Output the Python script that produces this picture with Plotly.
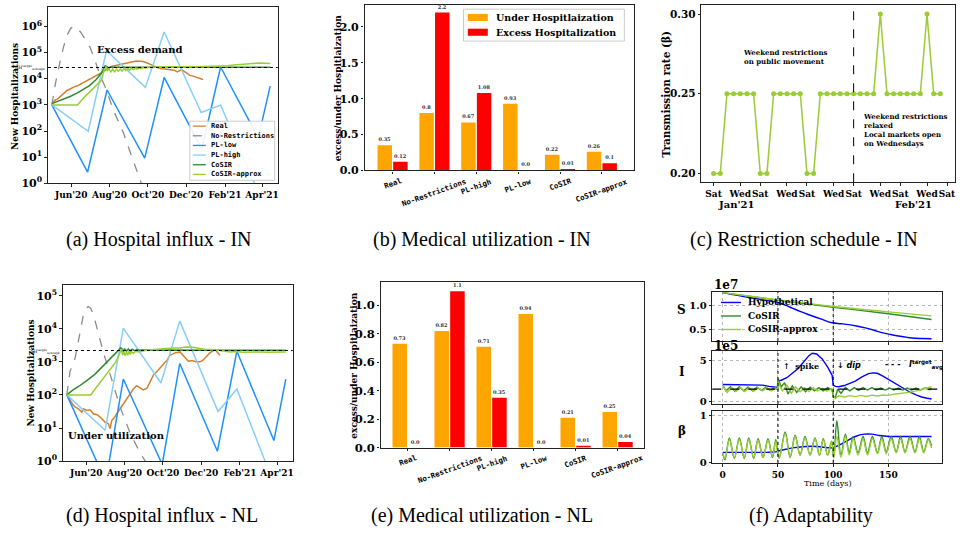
import numpy as np
import pandas as pd
import plotly.graph_objects as go

W, H = 962, 541
SERIF = "DejaVu Serif"
MONO = "DejaVu Sans Mono"
TIMES = "Liberation Serif"

# ---------------- data ----------------
BASE_DATE = "2020-05-01"
MONTH_TICKS = ["2020-06-01", "2020-08-01", "2020-10-01", "2020-12-01", "2021-02-01", "2021-04-01"]
MONTH_LABELS = ["Jun'20", "Aug'20", "Oct'20", "Dec'20", "Feb'21", "Apr'21"]
SERIES_NAMES = ["Real", "No-Restrictions", "PL-low", "PL-high", "CoSIR", "CoSIR-approx"]

# (a) India: (days since BASE_DATE, log10 new hospitalizations)
IN_REAL = [(0, 3.05), (3, 3.12), (6, 3.2), (9, 3.22), (12, 3.3), (15, 3.35), (18, 3.42), (21, 3.48),
           (24, 3.55), (27, 3.58), (30, 3.62), (33, 3.66), (36, 3.7), (40, 3.72), (44, 3.78), (48, 3.83),
           (52, 3.88), (56, 3.93), (60, 3.98), (64, 4.03), (68, 4.08), (72, 4.12), (76, 4.18), (80, 4.24),
           (84, 4.3), (88, 4.38), (92, 4.44), (96, 4.48), (100, 4.5), (105, 4.52), (110, 4.55), (115, 4.57),
           (120, 4.6), (125, 4.63), (130, 4.66), (135, 4.68), (140, 4.67), (145, 4.66), (150, 4.62),
           (155, 4.58), (160, 4.52), (165, 4.45), (170, 4.4), (175, 4.38), (180, 4.37), (185, 4.36),
           (190, 4.35), (195, 4.33), (200, 4.26), (203, 4.3), (207, 4.35), (211, 4.28), (215, 4.2),
           (220, 4.13), (225, 4.1), (230, 4.06), (235, 4.02), (241, 3.97)]
IN_NORES = [(0, 3.0), (6, 3.85), (13, 4.65), (19, 5.25), (25, 5.7), (30, 5.93), (35, 6.0), (40, 5.95),
            (46, 5.78), (53, 5.5), (61, 5.2), (68, 4.75), (76, 4.2), (87, 3.57), (98, 2.8), (114, 1.93),
            (127, 1.05), (140, 0.17), (147, -0.3)]
IN_PL_LOW = [(0, 3.0), (57, 0.43), (88, 3.57), (148, 0.96), (179, 4.05), (239, 1.31), (269, 4.45),
             (329, 1.74), (348, 3.72)]
IN_PL_HIGH = [(0, 3.0), (58, 1.99), (87, 5.08), (149, 3.67), (179, 5.79), (238, 2.71), (269, 2.99),
              (323, 0.0), (348, -1.0)]
IN_COSIR = [(0, 3.05), (10, 3.14), (20, 3.24), (30, 3.33), (40, 3.45), (50, 3.58), (60, 3.74), (70, 3.95),
            (76, 4.12), (80, 4.25), (83, 4.4), (85, 4.5), (88, 4.46), (91, 4.41), (94, 4.46), (97, 4.42),
            (100, 4.45), (103, 4.43), (106, 4.45), (110, 4.43), (114, 4.44), (140, 4.44), (200, 4.44),
            (260, 4.44), (348, 4.44)]
IN_COSIR_APPROX = [(0, 3.0), (41, 3.0), (50, 3.25), (60, 3.5), (70, 3.72), (79, 3.94), (84, 4.4), (86, 4.45),
                   (88, 4.3), (91, 4.38), (94, 4.26), (97, 4.36), (100, 4.27), (103, 4.37), (106, 4.29),
                   (109, 4.37), (112, 4.3), (115, 4.38), (118, 4.32), (121, 4.39), (124, 4.33), (127, 4.4),
                   (130, 4.35), (133, 4.41), (136, 4.37), (139, 4.42), (142, 4.39), (146, 4.43), (150, 4.41),
                   (155, 4.44), (160, 4.43), (170, 4.45), (180, 4.44), (190, 4.46), (200, 4.46), (210, 4.45),
                   (220, 4.47), (230, 4.46), (240, 4.47), (250, 4.46), (260, 4.47), (270, 4.48), (280, 4.5),
                   (290, 4.53), (300, 4.55), (310, 4.57), (320, 4.58), (330, 4.6), (340, 4.59), (348, 4.58)]
IN_TARGET = 2.7e4

# (d) Netherlands
NL_REAL = [(0, 2.0), (5.3, 1.83), (10, 1.7), (13.2, 1.64), (18.5, 1.58), (23.9, 1.48), (26.4, 1.58),
           (31.8, 1.53), (37.1, 1.55), (42.3, 1.43), (48.2, 1.4), (53, 1.33), (57.8, 1.25), (61, 1.18),
           (66.2, 1.13), (69, 0.98), (71.6, 1.23), (75.3, 1.3), (79.6, 1.43), (84.9, 1.58), (92.8, 1.78),
           (100.8, 2.03), (106, 2.18), (111.4, 2.28), (116.7, 2.2), (121.9, 2.15), (127.8, 2.2),
           (132.6, 2.38), (137.9, 2.6), (143.3, 2.7), (148.5, 2.8), (153.8, 2.93), (159.7, 3.05),
           (164.5, 3.2), (172.4, 3.27), (180.4, 3.3), (185.2, 3.2), (188.3, 3.12), (193.6, 3.02),
           (199.5, 3.04), (205.8, 3.0), (212.2, 3.0), (217, 3.05), (222.9, 3.17), (228.1, 3.27),
           (232.9, 3.33), (236.1, 3.37), (241.3, 3.26), (244, 3.2)]
NL_NORES = [(0, 2.0), (5, 2.7), (13.3, 3.12), (21.2, 3.97), (26.4, 4.42), (30, 4.6), (34, 4.67), (38, 4.62),
            (42, 4.45), (47, 4.1), (53, 3.67), (58, 3.3), (69, 2.63), (85, 1.63), (101, 0.84), (117, 0.24),
            (125, 0.0), (130, -0.3)]
NL_PL_LOW = [(0, 2.0), (62, -0.62), (90, 2.48), (152, -0.1), (180, 2.95), (240, 0.3), (271, 3.32),
             (330, 0.62), (349, 2.48)]
NL_PL_HIGH = [(0, 2.0), (61, 0.93), (90, 4.02), (150, 2.36), (180, 4.23), (241, 1.5), (271, 2.18),
              (316, 0.0), (349, -1.6)]
NL_COSIR = [(0, 2.0), (10, 2.15), (20, 2.27), (27, 2.36), (35, 2.48), (45, 2.63), (53, 2.78), (62, 2.95),
            (72, 3.15), (80, 3.3), (86, 3.42), (88, 3.38), (90, 3.3), (92, 3.4), (95, 3.32), (98, 3.39),
            (101, 3.33), (104, 3.38), (108, 3.34), (112, 3.37), (116, 3.35), (120, 3.36), (160, 3.35),
            (240, 3.35), (349, 3.35)]
NL_COSIR_APPROX = [(0, 2.0), (38, 2.0), (50, 2.3), (60, 2.55), (70, 2.8), (78, 3.0), (83, 3.2), (87, 3.38),
                   (89, 3.2), (91, 3.3), (93, 3.18), (95, 3.3), (97, 3.2), (99, 3.32), (101, 3.22), (103, 3.3),
                   (106, 3.26), (110, 3.32), (115, 3.3), (120, 3.33), (130, 3.36), (140, 3.38), (150, 3.4),
                   (160, 3.4), (170, 3.42), (180, 3.42), (190, 3.45), (200, 3.44), (210, 3.4), (220, 3.38),
                   (230, 3.37), (240, 3.36), (250, 3.33), (260, 3.3), (270, 3.31), (280, 3.29), (290, 3.3),
                   (300, 3.29), (310, 3.3), (320, 3.29), (330, 3.3), (340, 3.29), (349, 3.3)]
NL_TARGET = 2.2e3

# (b), (e) bar charts
BAR_CATS = ["Real", "No-Restrictions", "PL-high", "PL-low", "CoSIR", "CoSIR-approx"]
IN_UNDER = [0.35, 0.8, 0.67, 0.93, 0.22, 0.26]
IN_EXCESS = [0.12, 2.2, 1.08, 0.0, 0.01, 0.1]
NL_UNDER = [0.73, 0.82, 0.71, 0.94, 0.21, 0.25]
NL_EXCESS = [0.0, 1.1, 0.35, 0.0, 0.01, 0.04]
BAR_LEGEND = ["Under Hospitlaization", "Excess Hospitalization"]

# (c) restriction schedule
C_DAYS = list(range(35))
C_BETA = [0.20, 0.20, 0.25, 0.25, 0.25, 0.25, 0.25, 0.20, 0.20, 0.25, 0.25, 0.25, 0.25, 0.25,
          0.20, 0.20, 0.25, 0.25, 0.25, 0.25, 0.25, 0.25, 0.25, 0.25, 0.25, 0.30, 0.25, 0.25,
          0.25, 0.25, 0.25, 0.25, 0.30, 0.25, 0.25]
C_TICK_DAYS = [0, 4, 7, 11, 14, 18, 21, 25, 28, 32, 35]
C_TICK_LABELS = ["Sat", "Wed", "Sat", "Wed", "Sat", "Wed", "Sat", "Wed", "Sat", "Wed", "Sat"]
C_MONTHS = [(3.35, "Jan'21"), (30, "Feb'21")]
C_SPLIT_DAY = 21

# (f) adaptability: (day, value)
F_S_HYPO = [(0, 1.28), (25, 1.17), (50, 1.07), (56, 1.02), (63, 0.95), (70, 0.88), (78, 0.81), (90, 0.71),
            (99, 0.64), (107, 0.62), (114, 0.60), (121, 0.57), (129, 0.53), (137, 0.48), (144, 0.43),
            (152, 0.39), (159, 0.36), (167, 0.33), (174, 0.31), (181, 0.305), (189, 0.30)]
F_S_COSIR = [(0, 1.28), (50, 1.12), (100, 0.97), (150, 0.83), (189, 0.71)]
F_S_APPROX = [(0, 1.28), (50, 1.125), (100, 0.985), (150, 0.87), (189, 0.785)]

F_I_HYPO = [(0, 2.08), (10, 2.08), (20, 2.07), (30, 2.05), (36, 2.0), (42, 1.85), (47, 1.75), (49.5, 1.72),
            (50, 2.55), (53, 2.6), (58, 2.9), (63, 3.4), (68, 4.0), (73, 4.8), (78, 5.6), (81, 5.9), (85, 5.8),
            (90, 5.2), (95, 4.2), (99, 3.2), (99.5, 2.6), (100, 2.0), (102, 1.85), (105, 1.8), (110, 1.95),
            (115, 2.2), (120, 2.5), (126, 3.0), (132, 3.4), (136, 3.5), (140, 3.45), (145, 3.1), (150, 2.7),
            (155, 2.2), (160, 1.8), (165, 1.45), (170, 1.1), (175, 0.8), (180, 0.55), (185, 0.4), (189, 0.3)]
F_I_COSIR = [(0, 2.0), (3, 1.3), (7, 1.8), (11, 1.25), (15, 1.8), (19, 1.3), (23, 1.75), (27, 1.3), (31, 1.75),
             (35, 1.35), (39, 1.75), (43, 1.35), (47, 1.7), (49.9, 1.4), (50, 2.8), (53, 1.8), (56, 2.3),
             (59, 0.9), (63, 1.9), (67, 1.1), (71, 1.8), (75, 1.2), (79, 1.75), (83, 1.3), (87, 1.7), (91, 1.3),
             (95, 1.7), (99, 1.4), (100, 0.6), (102, 0.5), (104, 1.5), (107, 1.0), (111, 1.7), (115, 1.3),
             (119, 1.7), (123, 1.35), (127, 1.7), (131, 1.4), (135, 1.7), (139, 1.4), (143, 1.65), (147, 1.4),
             (151, 1.65), (155, 1.4), (159, 1.65), (163, 1.4), (167, 1.65), (171, 1.4), (175, 1.65), (179, 1.4),
             (183, 1.65), (187, 1.45), (189, 1.6)]
F_I_APPROX = [(0, 2.0), (4, 1.1), (8, 1.7), (12, 1.2), (16, 1.7), (20, 1.2), (24, 1.7), (28, 1.25), (32, 1.7),
              (36, 1.3), (40, 1.7), (44, 1.3), (48, 1.65), (49.9, 1.5), (50, 2.4), (54, 1.3), (58, 2.0), (62, 1.0),
              (66, 1.8), (70, 1.2), (74, 1.7), (78, 1.2), (82, 1.65), (86, 1.3), (90, 1.6), (94, 1.3), (98, 1.55),
              (99.9, 1.5), (100, 0.6), (102, 0.35), (105, 0.7), (110, 0.55), (115, 0.72), (120, 0.6), (125, 0.75),
              (130, 0.62), (135, 0.78), (140, 0.68), (145, 0.8), (150, 0.75), (155, 0.88), (160, 0.95),
              (165, 1.02), (170, 1.15), (175, 1.3), (180, 1.45), (185, 1.6), (189, 1.8)]
F_I_TARGET = 1.52

F_B_HYPO = [(0, 0.21), (10, 0.21), (20, 0.21), (30, 0.21), (40, 0.21), (48, 0.22), (52, 0.25), (58, 0.28),
            (65, 0.31), (72, 0.33), (80, 0.34), (88, 0.33), (95, 0.31), (100, 0.31), (105, 0.36), (112, 0.45),
            (120, 0.55), (128, 0.6), (135, 0.6), (142, 0.57), (150, 0.55), (160, 0.55), (170, 0.55),
            (180, 0.55), (189, 0.55)]
F_B_COSIR = [(0, 0.2), (2, 0.05), (6, 0.52), (10.5, 0.08), (15, 0.52), (19.5, 0.08), (23.5, 0.52), (28, 0.08),
             (32, 0.5), (36.5, 0.1), (41, 0.5), (45, 0.1), (48, 0.48), (51, 0.08), (56.5, 0.65), (61, 0.1),
             (65.5, 0.58), (70, 0.15), (74.5, 0.55), (79, 0.15), (83.5, 0.52), (87.5, 0.15), (91, 0.5),
             (95, 0.15), (98.5, 0.45), (100.5, 0.1), (103.3, 0.89), (107, 0.15), (111, 0.6), (114.5, 0.2),
             (118, 0.55), (122.5, 0.2), (127, 0.55), (131, 0.2), (135.5, 0.55), (140, 0.2), (144, 0.55),
             (148, 0.22), (152.5, 0.55), (157, 0.22), (161, 0.55), (165, 0.22), (169.5, 0.55), (174, 0.22),
             (178, 0.55), (182, 0.22), (186, 0.5), (189, 0.35)]
F_B_APPROX = [(0, 0.2), (2, 0.08), (6, 0.48), (10.5, 0.1), (15, 0.48), (19.5, 0.1), (23.5, 0.48), (28, 0.1),
              (32, 0.47), (36.5, 0.1), (41, 0.47), (45, 0.12), (48, 0.45), (51, 0.1), (56.5, 0.6), (61, 0.12),
              (65.5, 0.55), (70, 0.15), (74.5, 0.52), (79, 0.15), (83.5, 0.5), (87.5, 0.15), (91, 0.48),
              (95, 0.15), (98.5, 0.45), (100.5, 0.12), (103.3, 0.55), (107, 0.1), (111, 0.55), (114.5, 0.15),
              (118, 0.5), (122.5, 0.15), (127, 0.5), (131, 0.15), (135.5, 0.5), (140, 0.18), (144, 0.5),
              (148, 0.18), (152.5, 0.5), (157, 0.2), (161, 0.5), (165, 0.2), (169.5, 0.5), (174, 0.2),
              (178, 0.5), (182, 0.2), (186, 0.48), (189, 0.3)]
F_EVENT_DAYS = [50, 100]
F_XTICKS = [0, 50, 100, 150]

# ---------------- styles ----------------
C_REAL = "#D2802E"
C_NORES = "#8c8c8c"
C_PLLOW = "#1E90FF"
C_PLHIGH = "#87CEFA"
C_COSIR = "#2E8B2E"
C_APPROX = "#9ACD32"
C_HYPO = "#0000FF"
C_UNDER = "#FFA500"
C_EXCESS = "#FF0000"
SERIES_COLORS = [C_REAL, C_NORES, C_PLLOW, C_PLHIGH, C_COSIR, C_APPROX]
SERIES_DASH = ["solid", "dash", "solid", "solid", "solid", "solid"]


def px(x):
    return x / W


def py(y):
    return 1 - y / H


def dates(days):
    return pd.Timestamp(BASE_DATE) + pd.to_timedelta(np.asarray(days, dtype=float), unit="D")


def split(pairs):
    d, v = zip(*pairs)
    return list(d), list(v)


fig = go.Figure()
shapes = []
annotations = []


def text_px(x, y, text, size, family=SERIF, xanchor="center", yanchor="middle", weight="bold",
            angle=0, color="black", style="normal"):
    annotations.append(dict(xref="paper", yref="paper", x=px(x), y=py(y), text=text, showarrow=False,
                            xanchor=xanchor, yanchor=yanchor, textangle=angle, borderpad=0,
                            font=dict(family=family, size=size, color=color, weight=weight, style=style)))


def line_px(x0, x1, y, color, dash="solid", width=1.5):
    shapes.append(dict(type="line", xref="paper", yref="paper", x0=px(x0), x1=px(x1), y0=py(y), y1=py(y),
                       line=dict(color=color, width=width, dash=dash)))


def rect_px(x0, y0, x1, y1, fill, lcolor, lw=1):
    shapes.append(dict(type="rect", xref="paper", yref="paper", x0=px(x0), x1=px(x1), y0=py(y1), y1=py(y0),
                       fillcolor=fill, line=dict(color=lcolor, width=lw)))


# ---------------- traces: (a) and (d) ----------------
for (xa, ya), series in [(("x", "y"), [IN_REAL, IN_NORES, IN_PL_LOW, IN_PL_HIGH, IN_COSIR, IN_COSIR_APPROX]),
                         (("x4", "y4"), [NL_REAL, NL_NORES, NL_PL_LOW, NL_PL_HIGH, NL_COSIR, NL_COSIR_APPROX])]:
    for name, pairs, col, dash in zip(SERIES_NAMES, series, SERIES_COLORS, SERIES_DASH):
        d, v = split(pairs)
        fig.add_trace(go.Scatter(x=dates(d), y=np.power(10.0, v), mode="lines", name=name,
                                 line=dict(color=col, width=1.3 if dash == "dash" else 1.5, dash=dash),
                                 xaxis=xa, yaxis=ya, showlegend=False))

# ---------------- traces: (b) and (e) ----------------
for (xa, ya), under, excess in [(("x2", "y2"), IN_UNDER, IN_EXCESS), (("x5", "y5"), NL_UNDER, NL_EXCESS)]:
    for vals, col, nm in [(under, C_UNDER, BAR_LEGEND[0]), (excess, C_EXCESS, BAR_LEGEND[1])]:
        fig.add_trace(go.Bar(x=BAR_CATS, y=vals, name=nm, marker=dict(color=col, line=dict(width=0)),
                             text=[str(v) for v in vals], textposition="outside", constraintext="none",
                             textfont=dict(family=SERIF, size=5, color="#333333", weight="bold"),
                             cliponaxis=False, xaxis=xa, yaxis=ya, showlegend=False))

# ---------------- traces: (c) ----------------
fig.add_trace(go.Scatter(x=C_DAYS, y=C_BETA, mode="lines+markers", line=dict(color=C_APPROX, width=1.5),
                         marker=dict(color=C_APPROX, size=5), xaxis="x3", yaxis="y3", showlegend=False))

# ---------------- traces: (f) ----------------
F_PANELS = [("x6", "y6", [(F_S_HYPO, C_HYPO), (F_S_COSIR, C_COSIR), (F_S_APPROX, C_APPROX)], "spline"),
            ("x7", "y7", [(F_I_HYPO, C_HYPO), (F_I_COSIR, C_COSIR), (F_I_APPROX, C_APPROX)], "linear"),
            ("x8", "y8", [(F_B_HYPO, C_HYPO), (F_B_COSIR, C_COSIR), (F_B_APPROX, C_APPROX)], "spline")]
for xa, ya, lst, shp in F_PANELS:
    for pairs, col in lst:
        d, v = split(pairs)
        fig.add_trace(go.Scatter(x=d, y=v, mode="lines", line=dict(color=col, width=1.4, shape=shp),
                                 xaxis=xa, yaxis=ya, showlegend=False))

# ---------------- axes ----------------
TICKFONT = dict(family=SERIF, size=10, color="black", weight="bold")
BASE_AX = dict(showline=True, linecolor="#222222", linewidth=1.3, mirror=True, ticks="outside", ticklen=2.5,
               tickwidth=1, tickcolor="#222222", showgrid=False, zeroline=False, tickangle=0, fixedrange=True)


def ax(**kw):
    d = dict(BASE_AX)
    d["tickfont"] = dict(TICKFONT)
    for k, v in kw.items():
        if k == "font_size":
            d["tickfont"]["size"] = v
        else:
            d[k] = v
    return d


date_rng = [str(dates([-6.2])[0]), str(dates([360.0])[0])]
POW = ["10<sup>%d</sup>" % i for i in range(7)]
layout_axes = dict(
    xaxis=ax(domain=[px(48), px(278)], anchor="y", type="date", range=date_rng, tickvals=MONTH_TICKS,
             ticktext=MONTH_LABELS, font_size=9),
    yaxis=ax(domain=[py(185), py(6)], anchor="x", type="log", range=[0, 6.75],
             tickvals=[10.0 ** i for i in range(7)], ticktext=POW, font_size=11),
    xaxis2=ax(domain=[px(365), px(635)], anchor="y2", type="category", range=[-0.668, 5.776],
              showticklabels=False),
    yaxis2=ax(domain=[py(172), py(4)], anchor="x2", range=[0, 2.307], tickvals=[0, 0.5, 1.0, 1.5, 2.0],
              tickformat=".1f", font_size=11),
    xaxis3=ax(domain=[px(702), px(956)], anchor="y3", range=[-1.85, 36.2], tickvals=C_TICK_DAYS,
              ticktext=C_TICK_LABELS, font_size=9),
    yaxis3=ax(domain=[py(184), py(4)], anchor="x3", range=[0.19443, 0.30575], tickvals=[0.20, 0.25, 0.30],
              tickformat=".2f", font_size=10.5),
    xaxis4=ax(domain=[px(63), px(293)], anchor="y4", type="date", range=date_rng, tickvals=MONTH_TICKS,
              ticktext=MONTH_LABELS, font_size=9),
    yaxis4=ax(domain=[py(467), py(288)], anchor="x4", type="log", range=[0, 5.33],
              tickvals=[10.0 ** i for i in range(6)], ticktext=POW[:6], font_size=11),
    xaxis5=ax(domain=[px(381), px(645)], anchor="y5", type="category", range=[-0.642, 5.636],
              showticklabels=False),
    yaxis5=ax(domain=[py(453.3), py(285)], anchor="x5", range=[0, 1.166],
              tickvals=[0, 0.2, 0.4, 0.6, 0.8, 1.0], tickformat=".1f", font_size=11.5),
)
F_GRID = dict(showgrid=True, gridcolor="#b8b8b8", griddash="dot", gridwidth=0.8)
for i, (top, bot, rng, tv, tt) in enumerate([(295, 345, [0.255, 1.30], [0.5, 1.0], ["0.5", "1.0"]),
                                             (355, 409, [-0.3, 6.2], [0, 5], ["0", "5"]),
                                             (416, 469, [-0.02, 1.1], [0, 1], ["0", "1"])]):
    n = 6 + i
    layout_axes["xaxis%d" % n] = ax(domain=[px(713), px(943)], anchor="y%d" % n, range=[-9.5, 198.5],
                                    tickvals=F_XTICKS, showticklabels=(n == 8), font_size=9, **F_GRID)
    layout_axes["yaxis%d" % n] = ax(domain=[py(bot), py(top)], anchor="x%d" % n, range=rng, tickvals=tv,
                                    ticktext=tt, font_size=10, **F_GRID)

# ---------------- reference lines ----------------
shapes.append(dict(type="line", xref="x domain", yref="y", x0=0, x1=1, y0=IN_TARGET, y1=IN_TARGET,
                   line=dict(color="black", width=1, dash="dot")))
shapes.append(dict(type="line", xref="x4 domain", yref="y4", x0=0, x1=1, y0=NL_TARGET, y1=NL_TARGET,
                   line=dict(color="black", width=1, dash="dot")))
shapes.append(dict(type="line", xref="x3", yref="y3 domain", x0=C_SPLIT_DAY, x1=C_SPLIT_DAY, y0=0, y1=1,
                   line=dict(color="black", width=1, dash="dash")))
for n in (6, 7, 8):
    for dday in F_EVENT_DAYS:
        shapes.append(dict(type="line", xref="x%d" % n, yref="y%d domain" % n, x0=dday, x1=dday, y0=0, y1=1,
                           line=dict(color="black", width=1, dash="dot")))
shapes.append(dict(type="line", xref="x7 domain", yref="y7", x0=0, x1=1, y0=F_I_TARGET, y1=F_I_TARGET,
                   line=dict(color="black", width=1.2, dash="dash")))

# ---------------- legends (drawn) ----------------
# (a)
rect_px(190, 122, 275, 182, "rgba(255,255,255,0.9)", "#cccccc", 1)
for i, (nm, col, dash) in enumerate(zip(SERIES_NAMES, SERIES_COLORS, SERIES_DASH)):
    yy = 127 + i * 9.8
    line_px(193, 206, yy, col, "dash" if dash == "dash" else "solid", 1.3)
    text_px(210.5, yy, nm, 7, family=MONO, xanchor="left")
# (b)
rect_px(464, 8.3, 625, 40.7, "rgba(255,255,255,0.9)", "#cccccc", 1)
for i, (nm, col) in enumerate(zip(BAR_LEGEND, [C_UNDER, C_EXCESS])):
    yy = 16.7 + i * 15
    rect_px(468.3, yy - 3.6, 488.3, yy + 3.6, col, col, 0)
    text_px(495.7, yy, nm, 9.5, xanchor="left")
# (f)
for i, (nm, col) in enumerate(zip(["Hypothetical", "CoSIR", "CoSIR-approx"], [C_HYPO, C_COSIR, C_APPROX])):
    yy = 306 + i * 13.7
    line_px(721.7, 741.7, yy, col, "solid", 1.4)
    text_px(747.3, yy, nm, 9, xanchor="left")

# ---------------- texts ----------------
text_px(15, 96.5, "New Hospitalizations", 9, angle=-90)
text_px(30.7, 377.5, "New Hospitalizations", 9, angle=-90)
text_px(338.5, 88.3, "excess/under Hospitlaization", 9, angle=-90)
text_px(353.5, 370, "excess/under Hospitlaization", 9, angle=-90)
text_px(666.7, 95, "Transmission rate (β)", 10.5, angle=-90)
text_px(682.7, 313.3, "S", 12)
text_px(683, 376.7, "I", 12)
text_px(683, 436.7, "β", 12)
text_px(828.7, 490, "Time (days)", 8, weight="normal")
text_px(714, 288, "1e7", 12, xanchor="left")
text_px(714, 350, "1e5", 12, xanchor="left")
text_px(140, 49.3, "Excess demand", 10)
text_px(116.5, 440.7, "Under utilization", 10)
text_px(46.5, 67, "ΔH<sup>target</sup><sub>average</sub>", 4.5, xanchor="right", weight="normal")
text_px(61.5, 355.7, "ΔH<sup>target</sup><sub>average</sub>", 4.5, xanchor="right", weight="normal")
text_px(783, 370, "↑  spike", 8, xanchor="left")
text_px(837, 370, "↓ <i>dip</i>", 8, xanchor="left", family="DejaVu Sans")
text_px(885, 369, "- - -   <i>I</i><sup>target</sup><sub>avg</sub>", 8, xanchor="left", family="DejaVu Sans")

# (c) annotations
annotations.append(dict(xref="x3", yref="paper", x=4.15, y=py(46), xanchor="left", yanchor="top",
                        text="Weekend restrictions<br>on public movement", showarrow=False, align="left",
                        font=dict(family=SERIF, size=7, color="black", weight="bold")))
annotations.append(dict(xref="x3", yref="paper", x=22.1, y=py(110.5), xanchor="left", yanchor="top",
                        text="Weekend restrictions<br>relaxed<br>Local markets open<br>on Wednesdays",
                        showarrow=False, align="left",
                        font=dict(family=SERIF, size=7, color="black", weight="bold")))
for dday, lab in C_MONTHS:
    annotations.append(dict(xref="x3", yref="paper", x=dday, y=py(206.5), text=lab, showarrow=False,
                            borderpad=0, font=dict(family=SERIF, size=10, color="black", weight="bold")))

# bar category labels
for xa, ytop in [("x2", 175.5), ("x5", 456.5)]:
    for i, cat in enumerate(BAR_CATS):
        annotations.append(dict(xref=xa, yref="paper", x=i, y=py(ytop), xanchor="center", yanchor="top",
                                text=cat, textangle=-20, showarrow=False,
                                font=dict(family=MONO, size=7.5, color="black", weight="bold")))

# captions
for (x, y, t) in [(159, 242, "(a) Hospital influx - IN"), (483, 242, "(b) Medical utilization - IN"),
                  (805, 242, "(c) Restriction schedule - IN"), (162, 522, "(d) Hospital influx - NL"),
                  (483, 522, "(e) Medical utilization - NL"), (811.5, 522, "(f) Adaptability")]:
    text_px(x, y, t, 20, family=TIMES, weight="normal")

fig.update_layout(width=W, height=H, margin=dict(l=0, r=0, t=0, b=0), paper_bgcolor="white",
                  plot_bgcolor="white", showlegend=False, barmode="group", bargap=0.253, bargroupgap=0.075,
                  shapes=shapes, annotations=annotations, **layout_axes)
fig.write_html("out.html")
